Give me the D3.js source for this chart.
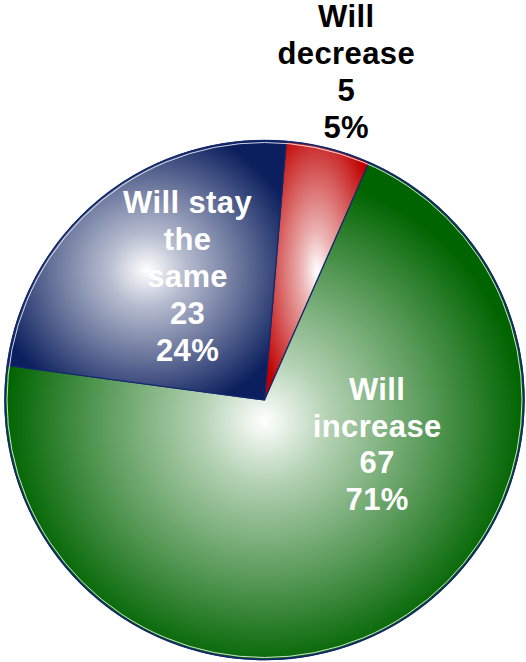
<!DOCTYPE html>
<html>
<head>
<meta charset="utf-8">
<script src="https://cdn.jsdelivr.net/npm/d3@7"></script>
<style>
html,body{margin:0;padding:0;background:#fff;}
svg{display:block;}
text{font-family:"Liberation Sans",Arial,sans-serif;font-weight:bold;}
</style>
</head>
<body>
<svg id="chart" width="526" height="662"></svg>
<script>
// ---- data ----
const categories = ["Will decrease", "Will increase", "Will stay the same"];
const labelLines = [["Will", "decrease"], ["Will", "increase"], ["Will stay", "the", "same"]];
const counts = [5, 67, 23];
const percents = ["5%", "71%", "24%"];

// ---- styles ----
const edgeColors = ["#c00000", "#006400", "#0b1f5e"];
const textColors = ["#000000", "#ffffff", "#ffffff"];
// label placement as (radius fraction, angle offset in degrees from slice mid-angle)
const labelRadiusFrac = [1.305, 0.466, 0.563];
const labelAngleOffset = [-0.3, -39.4, 7];
const gradRadius = [0.6, 0.5, 0.56];

const W = 526, H = 662;
const cx = 264.5, cy = 400, R = 259.5;
const fontSize = 31, lineH = 36.8, capH = fontSize * 0.716;

const svg = d3.select("#chart");
const defs = svg.append("defs");

const start = 4.8 * Math.PI / 180;
const pie = d3.pie().sort(null).value(d => d).startAngle(start).endAngle(start + 2 * Math.PI);
const arcs = pie(counts);
const arc = d3.arc().innerRadius(0).outerRadius(R);

arcs.forEach((a, i) => {
  const g = defs.append("radialGradient")
    .attr("id", "grad" + i)
    .attr("cx", 0.5).attr("cy", i === 1 ? 0.52 : 0.5).attr("r", gradRadius[i]);
  const c = d3.color(edgeColors[i]);
  const mix = d3.interpolateRgb("#ffffff", c);
  g.append("stop").attr("offset", "0%").attr("stop-color", "#ffffff");
  g.append("stop").attr("offset", "25%").attr("stop-color", mix(0.3));
  g.append("stop").attr("offset", "60%").attr("stop-color", mix(0.62));
  g.append("stop").attr("offset", "100%").attr("stop-color", edgeColors[i]);
});

const gPie = svg.append("g").attr("transform", `translate(${cx},${cy})`);

gPie.selectAll("path.slice")
  .data(arcs)
  .enter().append("path")
  .attr("class", "slice")
  .attr("d", arc)
  .attr("fill", (d, i) => `url(#grad${i})`)
  .attr("stroke", "#13286c")
  .attr("stroke-width", 1.2)
  .attr("stroke-linejoin", "round");

// outline
gPie.append("circle").attr("r", R - 2).attr("fill", "none")
  .attr("stroke", "#ffffff").attr("stroke-width", 1).attr("stroke-opacity", 0.8);
gPie.append("circle").attr("r", R).attr("fill", "none")
  .attr("stroke", "#13286c").attr("stroke-width", 1.5);

// labels
arcs.forEach((a, i) => {
  const mid = (a.startAngle + a.endAngle) / 2 + labelAngleOffset[i] * Math.PI / 180;
  const rr = R * labelRadiusFrac[i];
  const lx = Math.sin(mid) * rr;
  const ly = -Math.cos(mid) * rr;
  const lines = labelLines[i].concat([String(counts[i]), percents[i]]);
  const n = lines.length;
  const firstBase = ly - (n - 1) * lineH / 2 + capH / 2;
  const t = gPie.append("text")
    .attr("text-anchor", "middle")
    .attr("font-size", fontSize)
    .attr("letter-spacing", 0.4)
    .attr("fill", textColors[i]);
  lines.forEach((s, k) => {
    t.append("tspan").attr("x", lx).attr("y", firstBase + k * lineH).text(s);
  });
});
</script>
</body>
</html>
